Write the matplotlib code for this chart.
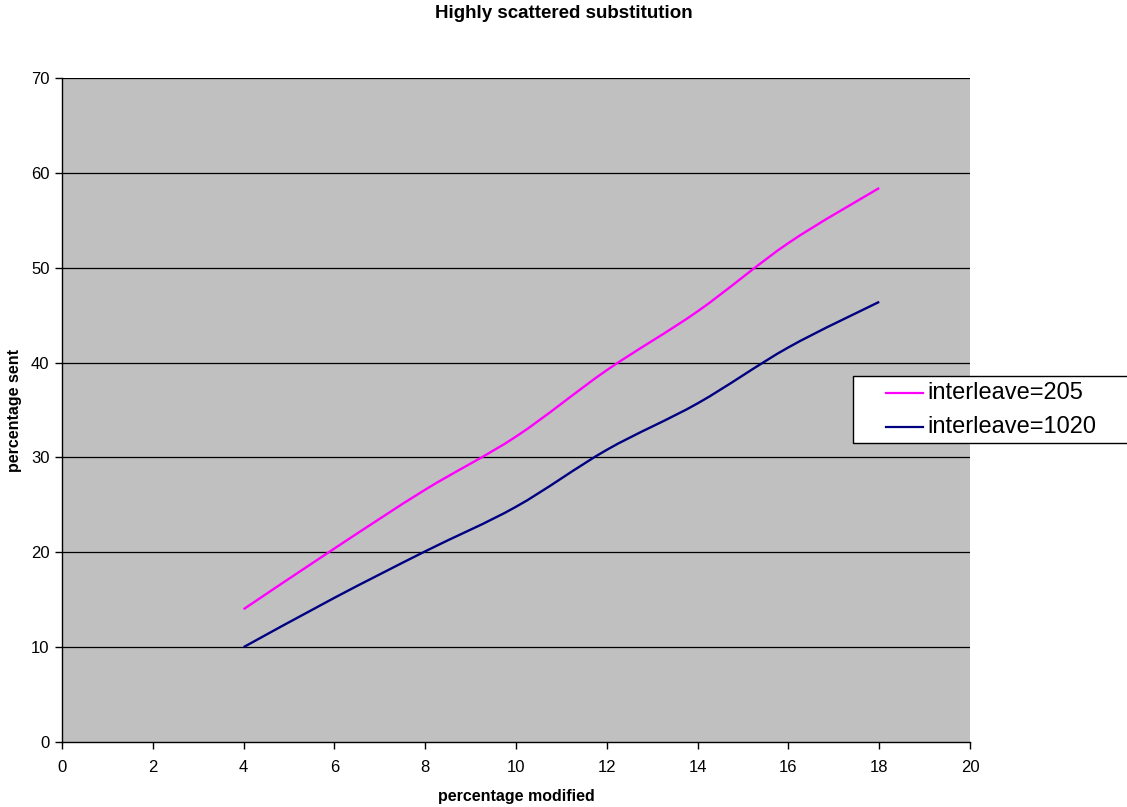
import matplotlib
matplotlib.use("Agg")
import matplotlib.pyplot as plt
from matplotlib.path import Path
from matplotlib.patches import PathPatch, Rectangle
from matplotlib.lines import Line2D
import numpy as np

plt.rcParams['font.family'] = ['Liberation Sans', 'DejaVu Sans']

x_vals = [4, 6, 8, 10, 12, 14, 16, 18]
interleave_205 = [14.0, 20.4, 26.6, 32.2, 39.2, 45.4, 52.6, 58.4]
interleave_1020 = [10.0, 15.2, 20.1, 24.8, 30.8, 35.7, 41.6, 46.4]
series_names = ['interleave=205', 'interleave=1020']
series_colors = ['#FF00FF', '#000080']
x_ticks = list(range(0, 21, 2))
y_ticks = list(range(0, 71, 10))

W, H = 1127, 807


def smooth_path(xs, ys):
    pts = np.column_stack([xs, ys]).astype(float)
    n = len(pts)
    verts = [pts[0]]
    codes = [Path.MOVETO]
    for i in range(n - 1):
        p0 = pts[i - 1] if i > 0 else pts[i]
        p1 = pts[i]
        p2 = pts[i + 1]
        p3 = pts[i + 2] if i + 2 < n else pts[i + 1]
        c1 = p1 + (p2 - p0) / 6.0
        c2 = p2 - (p3 - p1) / 6.0
        verts += [c1, c2, p2]
        codes += [Path.CURVE4] * 3
    return Path(verts, codes)


def fx(px):
    return px / W


def fy(py):
    return 1 - py / H


fig = plt.figure(figsize=(W / 100, H / 100), dpi=100)
L, R, T, B = 62, 970, 78, 742
ax = fig.add_axes([fx(L), fy(B), (R - L) / W, (B - T) / H])
ax.set_facecolor('#C0C0C0')
ax.set_xlim(0, 20)
ax.set_ylim(0, 70)
ax.set_xticks(x_ticks)
ax.set_yticks(y_ticks)
ax.tick_params(axis='both', direction='out', length=5, width=1, labelsize=12, colors='black')
ax.tick_params(axis='x', pad=8)
ax.tick_params(axis='y', pad=4)
for s in ['top', 'right']:
    ax.spines[s].set_visible(False)
for s in ['left', 'bottom']:
    ax.spines[s].set_color('black')
    ax.spines[s].set_linewidth(1)
for yv in y_ticks[1:]:
    ax.axhline(yv, color='black', linewidth=0.9, zorder=1)

for ys, name, col in zip([interleave_205, interleave_1020], series_names, series_colors):
    patch = PathPatch(smooth_path(x_vals, ys), facecolor='none', edgecolor=col,
                      linewidth=1.7, zorder=3, transform=ax.transData)
    ax.add_patch(patch)

fig.text(0.5, fy(14), 'Highly scattered substitution', ha='center', va='center',
         fontsize=13.5, fontweight='bold')
fig.text(fx((L + R) / 2), fy(796), 'percentage modified', ha='center', va='center',
         fontsize=11.5, fontweight='bold')
fig.text(fx(15), fy((T + B) / 2), 'percentage sent', ha='center', va='center',
         rotation=90, fontsize=11.5, fontweight='bold')

# legend box (Excel style)
fig.add_artist(Rectangle((fx(853), fy(443)), fx(1127) - fx(853) + 0.01, fy(376) - fy(443),
                         transform=fig.transFigure, facecolor='white', edgecolor='black',
                         linewidth=1, zorder=5, clip_on=False))
for i, (name, col) in enumerate(zip(series_names, series_colors)):
    yy = fy(393 + 34 * i)
    fig.add_artist(Line2D([fx(886), fx(923)], [yy, yy], color=col, linewidth=1.6,
                          transform=fig.transFigure, zorder=6))
    fig.text(fx(927), yy, name, ha='left', va='center', fontsize=17, zorder=6)

fig.savefig('out.png', dpi=100)
